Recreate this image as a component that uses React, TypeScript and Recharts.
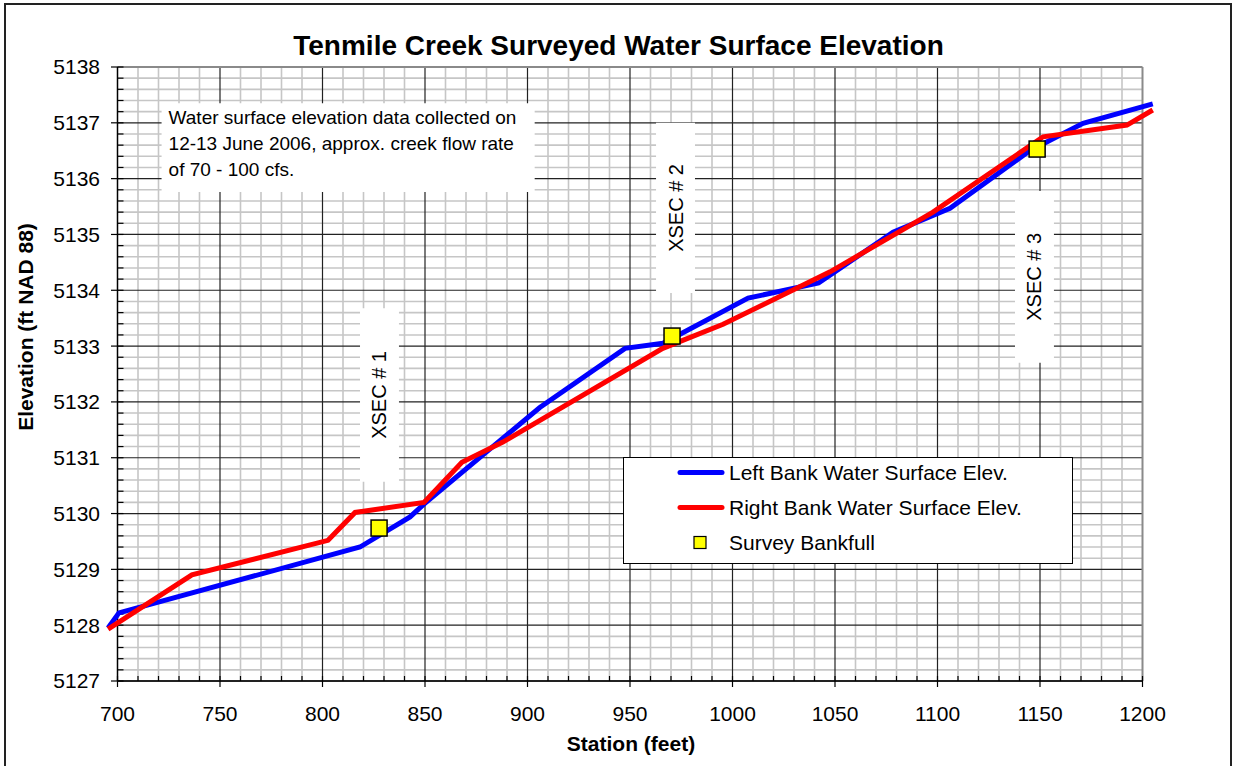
import React from 'react';
import {
  ComposedChart,
  Line,
  Scatter,
  XAxis,
  YAxis,
  ReferenceLine,
  ReferenceArea,
  Legend,
} from 'recharts';

// Surveyed water surface points along the creek (station in feet, elevation in ft NAD 88)
const leftStation = [695.4, 700.7, 818.3, 842.7, 849.5, 906, 947.6, 966.1, 1007.6, 1042, 1078.3, 1106.1, 1145, 1171, 1205];
const leftElev = [5127.95, 5128.22, 5129.4, 5129.94, 5130.17, 5131.9, 5132.96, 5133.05, 5133.86, 5134.13, 5135.04, 5135.47, 5136.5, 5136.99, 5137.34];

const rightStation = [695.4, 736.3, 802.7, 815.9, 849.5, 868, 888, 966, 995.4, 1047.6, 1097.8, 1151.5, 1192.4, 1205];
const rightElev = [5127.93, 5128.9, 5129.52, 5130.02, 5130.2, 5130.92, 5131.28, 5132.96, 5133.39, 5134.33, 5135.4, 5136.75, 5136.96, 5137.23];

const bankfullStation = [827.6, 970.5, 1148.6];
const bankfullElev = [5129.74, 5133.18, 5136.53];

const xTicks = [700, 750, 800, 850, 900, 950, 1000, 1050, 1100, 1150, 1200];
const yTicks = [5127, 5128, 5129, 5130, 5131, 5132, 5133, 5134, 5135, 5136, 5137, 5138];

const seriesNames = ['Left Bank Water Surface Elev.', 'Right Bank Water Surface Elev.', 'Survey Bankfull'];
const seriesColors = ['#0000ff', '#ff0000', '#ffff00'];

const xsecLabels = ['XSEC # 1', 'XSEC # 2', 'XSEC # 3'];
const noteLines = [
  'Water surface elevation data collected on',
  '12-13 June 2006, approx. creek flow rate',
  'of 70 - 100 cfs.',
];

// Placement of the white label boxes, in axis units
const xsecBoxes = [
  { x1: 818.3, x2: 837.3, y1: 5130.57, y2: 5133.68 },
  { x1: 962.7, x2: 981.7, y1: 5133.95, y2: 5137.0 },
  { x1: 1137.8, x2: 1156.8, y1: 5132.7, y2: 5135.78 },
];
const noteBox = { x1: 721.5, x2: 903.5, y1: 5135.76, y2: 5137.35 };

const FONT = '"Liberation Sans", Arial, sans-serif';

const W = 1233;
const H = 766;
const MARGIN = { top: 67, right: 70, bottom: 45, left: 37 };
const Y_AXIS_W = 60;
const X_AXIS_H = 40;
const X_DOMAIN: [number, number] = [690, 1210];
const Y_DOMAIN: [number, number] = [5127, 5138];
const X_MIN = 700;
const X_MAX = 1200;

const plotW = W - MARGIN.left - MARGIN.right - Y_AXIS_W;
const plotH = H - MARGIN.top - MARGIN.bottom - X_AXIS_H;
const ftPerPx = (X_DOMAIN[1] - X_DOMAIN[0]) / plotW;
const elevPerPx = (Y_DOMAIN[1] - Y_DOMAIN[0]) / plotH;

const stepRange = (a: number, b: number, step: number) => {
  const out: number[] = [];
  const n = Math.round((b - a) / step);
  for (let i = 0; i <= n; i++) out.push(Math.round((a + i * step) * 1000) / 1000);
  return out;
};

const isInt = (v: number) => Math.abs(v - Math.round(v)) < 1e-6;
const minorX = stepRange(X_MIN, X_MAX, 10).filter((v) => v % 50 !== 0);
const minorY = stepRange(Y_DOMAIN[0], Y_DOMAIN[1], 0.2).filter((v) => !isInt(v));
const allMinorX = stepRange(X_MIN, X_MAX, 10);
const allMinorY = stepRange(Y_DOMAIN[0], Y_DOMAIN[1], 0.2);

const leftData = leftStation.map((s, i) => ({ station: s, elev: leftElev[i] }));
const rightData = rightStation.map((s, i) => ({ station: s, elev: rightElev[i] }));
const bankfullData = bankfullStation.map((s, i) => ({ station: s, elev: bankfullElev[i] }));

const BankfullSquare = (props: any) => {
  const { cx, cy } = props;
  if (cx == null || cy == null) return null;
  return <rect x={cx - 8} y={cy - 8} width={16} height={16} fill="#ffff00" stroke="#000" strokeWidth={1.5} />;
};

const makeXsecLabel = (text: string) => (props: any) => {
  const vb = props.viewBox || {};
  const cx = vb.x + vb.width / 2;
  const cy = vb.y + vb.height / 2;
  return (
    <text
      x={cx}
      y={cy}
      transform={`rotate(-90 ${cx} ${cy})`}
      textAnchor="middle"
      dominantBaseline="central"
      fontFamily={FONT}
      fontSize={20}
      fill="#000"
    >
      {text}
    </text>
  );
};

const renderNote = (props: any) => {
  const vb = props.viewBox || {};
  return (
    <text fontFamily={FONT} fontSize={19} fill="#000">
      {noteLines.map((line, i) => (
        <tspan key={i} x={vb.x + 7} y={vb.y + 21 + i * 26}>
          {line}
        </tspan>
      ))}
    </text>
  );
};

const LegendBox = () => (
  <svg width={451} height={108} style={{ display: 'block' }}>
    <rect x={0.5} y={0.5} width={449} height={106} fill="#fff" stroke="#000" strokeWidth={1} />
    {seriesNames.map((name, i) => {
      const cy = 15.5 + i * 35;
      return (
        <g key={name}>
          {i < 2 ? (
            <line x1={57} x2={99} y1={cy} y2={cy} stroke={seriesColors[i]} strokeWidth={5} strokeLinecap="round" />
          ) : (
            <rect x={71} y={cy - 6} width={12} height={12} fill={seriesColors[i]} stroke="#000" strokeWidth={1.2} />
          )}
          <text x={106} y={cy + 7} fontFamily={FONT} fontSize={21} fill="#000">
            {name}
          </text>
        </g>
      );
    })}
  </svg>
);

export default function App() {
  const minorStroke = '#c6c6c6';
  const majorStroke = '#222';
  const yTickIn = X_MIN + 6 * ftPerPx;
  const yTickOut = X_MIN - 6.5 * ftPerPx;
  const xTickIn = Y_DOMAIN[0] + 5 * elevPerPx;

  return (
    <div style={{ position: 'absolute', left: 0, top: 0, width: W, height: H, overflow: 'hidden', background: '#fff' }}>
      <ComposedChart width={W} height={H} margin={MARGIN}>
        <XAxis
          type="number"
          dataKey="station"
          domain={X_DOMAIN}
          allowDataOverflow
          ticks={xTicks}
          interval={0}
          height={X_AXIS_H}
          axisLine={false}
          tickLine={{ stroke: '#000', strokeWidth: 1.2 }}
          tickSize={6}
          tickMargin={19}
          tick={{ fontSize: 21, fill: '#000', fontFamily: FONT }}
        />
        <YAxis
          type="number"
          dataKey="elev"
          domain={Y_DOMAIN}
          allowDataOverflow
          ticks={yTicks}
          interval={0}
          width={Y_AXIS_W}
          axisLine={false}
          tickLine={false}
          tickSize={0}
          tickMargin={-3}
          tick={{ fontSize: 21, fill: '#000', fontFamily: FONT }}
        />

        {/* minor grid */}
        {minorX.map((v) => (
          <ReferenceLine key={`mx${v}`} segment={[{ x: v, y: Y_DOMAIN[0] }, { x: v, y: Y_DOMAIN[1] }]} stroke={minorStroke} strokeWidth={1.6} zIndex={-60} />
        ))}
        {minorY.map((v) => (
          <ReferenceLine key={`my${v}`} segment={[{ x: X_MIN, y: v }, { x: X_MAX, y: v }]} stroke={minorStroke} strokeWidth={1.6} zIndex={-60} />
        ))}
        {/* major grid */}
        {xTicks.slice(1, -1).map((v) => (
          <ReferenceLine key={`Mx${v}`} segment={[{ x: v, y: Y_DOMAIN[0] }, { x: v, y: Y_DOMAIN[1] }]} stroke={majorStroke} strokeWidth={1.2} zIndex={-55} />
        ))}
        {yTicks.slice(1, -1).map((v) => (
          <ReferenceLine key={`My${v}`} segment={[{ x: X_MIN, y: v }, { x: X_MAX, y: v }]} stroke={majorStroke} strokeWidth={1.2} zIndex={-55} />
        ))}

        {/* white label boxes */}
        <ReferenceArea
          x1={noteBox.x1}
          x2={noteBox.x2}
          y1={noteBox.y1}
          y2={noteBox.y2}
          fill="#fff"
          fillOpacity={1}
          stroke="none"
          zIndex={-40}
          label={renderNote}
        />
        {xsecBoxes.map((b, i) => (
          <ReferenceArea
            key={`xs${i}`}
            x1={b.x1}
            x2={b.x2}
            y1={b.y1}
            y2={b.y2}
            fill="#fff"
            fillOpacity={1}
            stroke="none"
            zIndex={-40}
            label={makeXsecLabel(xsecLabels[i])}
          />
        ))}

        {/* plot frame */}
        <ReferenceLine segment={[{ x: X_MIN, y: Y_DOMAIN[1] }, { x: X_MAX, y: Y_DOMAIN[1] }]} stroke="#8a8a8a" strokeWidth={2} zIndex={-30} />
        <ReferenceLine segment={[{ x: X_MAX, y: Y_DOMAIN[0] }, { x: X_MAX, y: Y_DOMAIN[1] }]} stroke="#8a8a8a" strokeWidth={2} zIndex={-30} />
        <ReferenceLine segment={[{ x: X_MIN, y: Y_DOMAIN[0] }, { x: X_MIN, y: Y_DOMAIN[1] }]} stroke="#000" strokeWidth={1.5} zIndex={-30} />
        <ReferenceLine segment={[{ x: X_MIN, y: Y_DOMAIN[0] }, { x: X_MAX, y: Y_DOMAIN[0] }]} stroke="#222" strokeWidth={2} zIndex={-30} />

        {/* axis tick marks */}
        {allMinorY.map((v) => (
          <ReferenceLine
            key={`ty${v}`}
            segment={[{ x: isInt(v) ? yTickOut : X_MIN, y: v }, { x: yTickIn, y: v }]}
            stroke="#000"
            strokeWidth={1.2}
            zIndex={-30}
          />
        ))}
        {allMinorX.map((v) => (
          <ReferenceLine key={`tx${v}`} segment={[{ x: v, y: Y_DOMAIN[0] }, { x: v, y: xTickIn }]} stroke="#000" strokeWidth={1.2} zIndex={-30} />
        ))}

        <Line
          data={leftData}
          dataKey="elev"
          name={seriesNames[0]}
          type="linear"
          stroke={seriesColors[0]}
          strokeWidth={5}
          dot={false}
          activeDot={false}
          isAnimationActive={false}
        />
        <Line
          data={rightData}
          dataKey="elev"
          name={seriesNames[1]}
          type="linear"
          stroke={seriesColors[1]}
          strokeWidth={5}
          dot={false}
          activeDot={false}
          isAnimationActive={false}
        />
        <Scatter
          data={bankfullData}
          dataKey="elev"
          name={seriesNames[2]}
          fill={seriesColors[2]}
          shape={BankfullSquare}
          isAnimationActive={false}
        />

        <Legend
          layout="horizontal"
          verticalAlign="middle"
          align="center"
          wrapperStyle={{ left: 623, top: 457, width: 451, height: 108, position: 'absolute' }}
          content={() => <LegendBox />}
        />
      </ComposedChart>

      <svg width={W} height={H} style={{ position: 'absolute', left: 0, top: 0, pointerEvents: 'none' }}>
        <rect x={5} y={4} width={1226} height={H + 10} fill="none" stroke="#222" strokeWidth={2} />
        <text x={618.5} y={55} textAnchor="middle" fontFamily={FONT} fontWeight="bold" fontSize={28} fill="#000">
          Tenmile Creek Surveyed Water Surface Elevation
        </text>
        <text
          x={25}
          y={327}
          transform="rotate(-90 25 327)"
          textAnchor="middle"
          dominantBaseline="central"
          fontFamily={FONT}
          fontWeight="bold"
          fontSize={21}
          fill="#000"
        >
          Elevation (ft NAD 88)
        </text>
        <text x={631} y={751} textAnchor="middle" fontFamily={FONT} fontWeight="bold" fontSize={21} fill="#000">
          Station (feet)
        </text>
      </svg>
    </div>
  );
}
